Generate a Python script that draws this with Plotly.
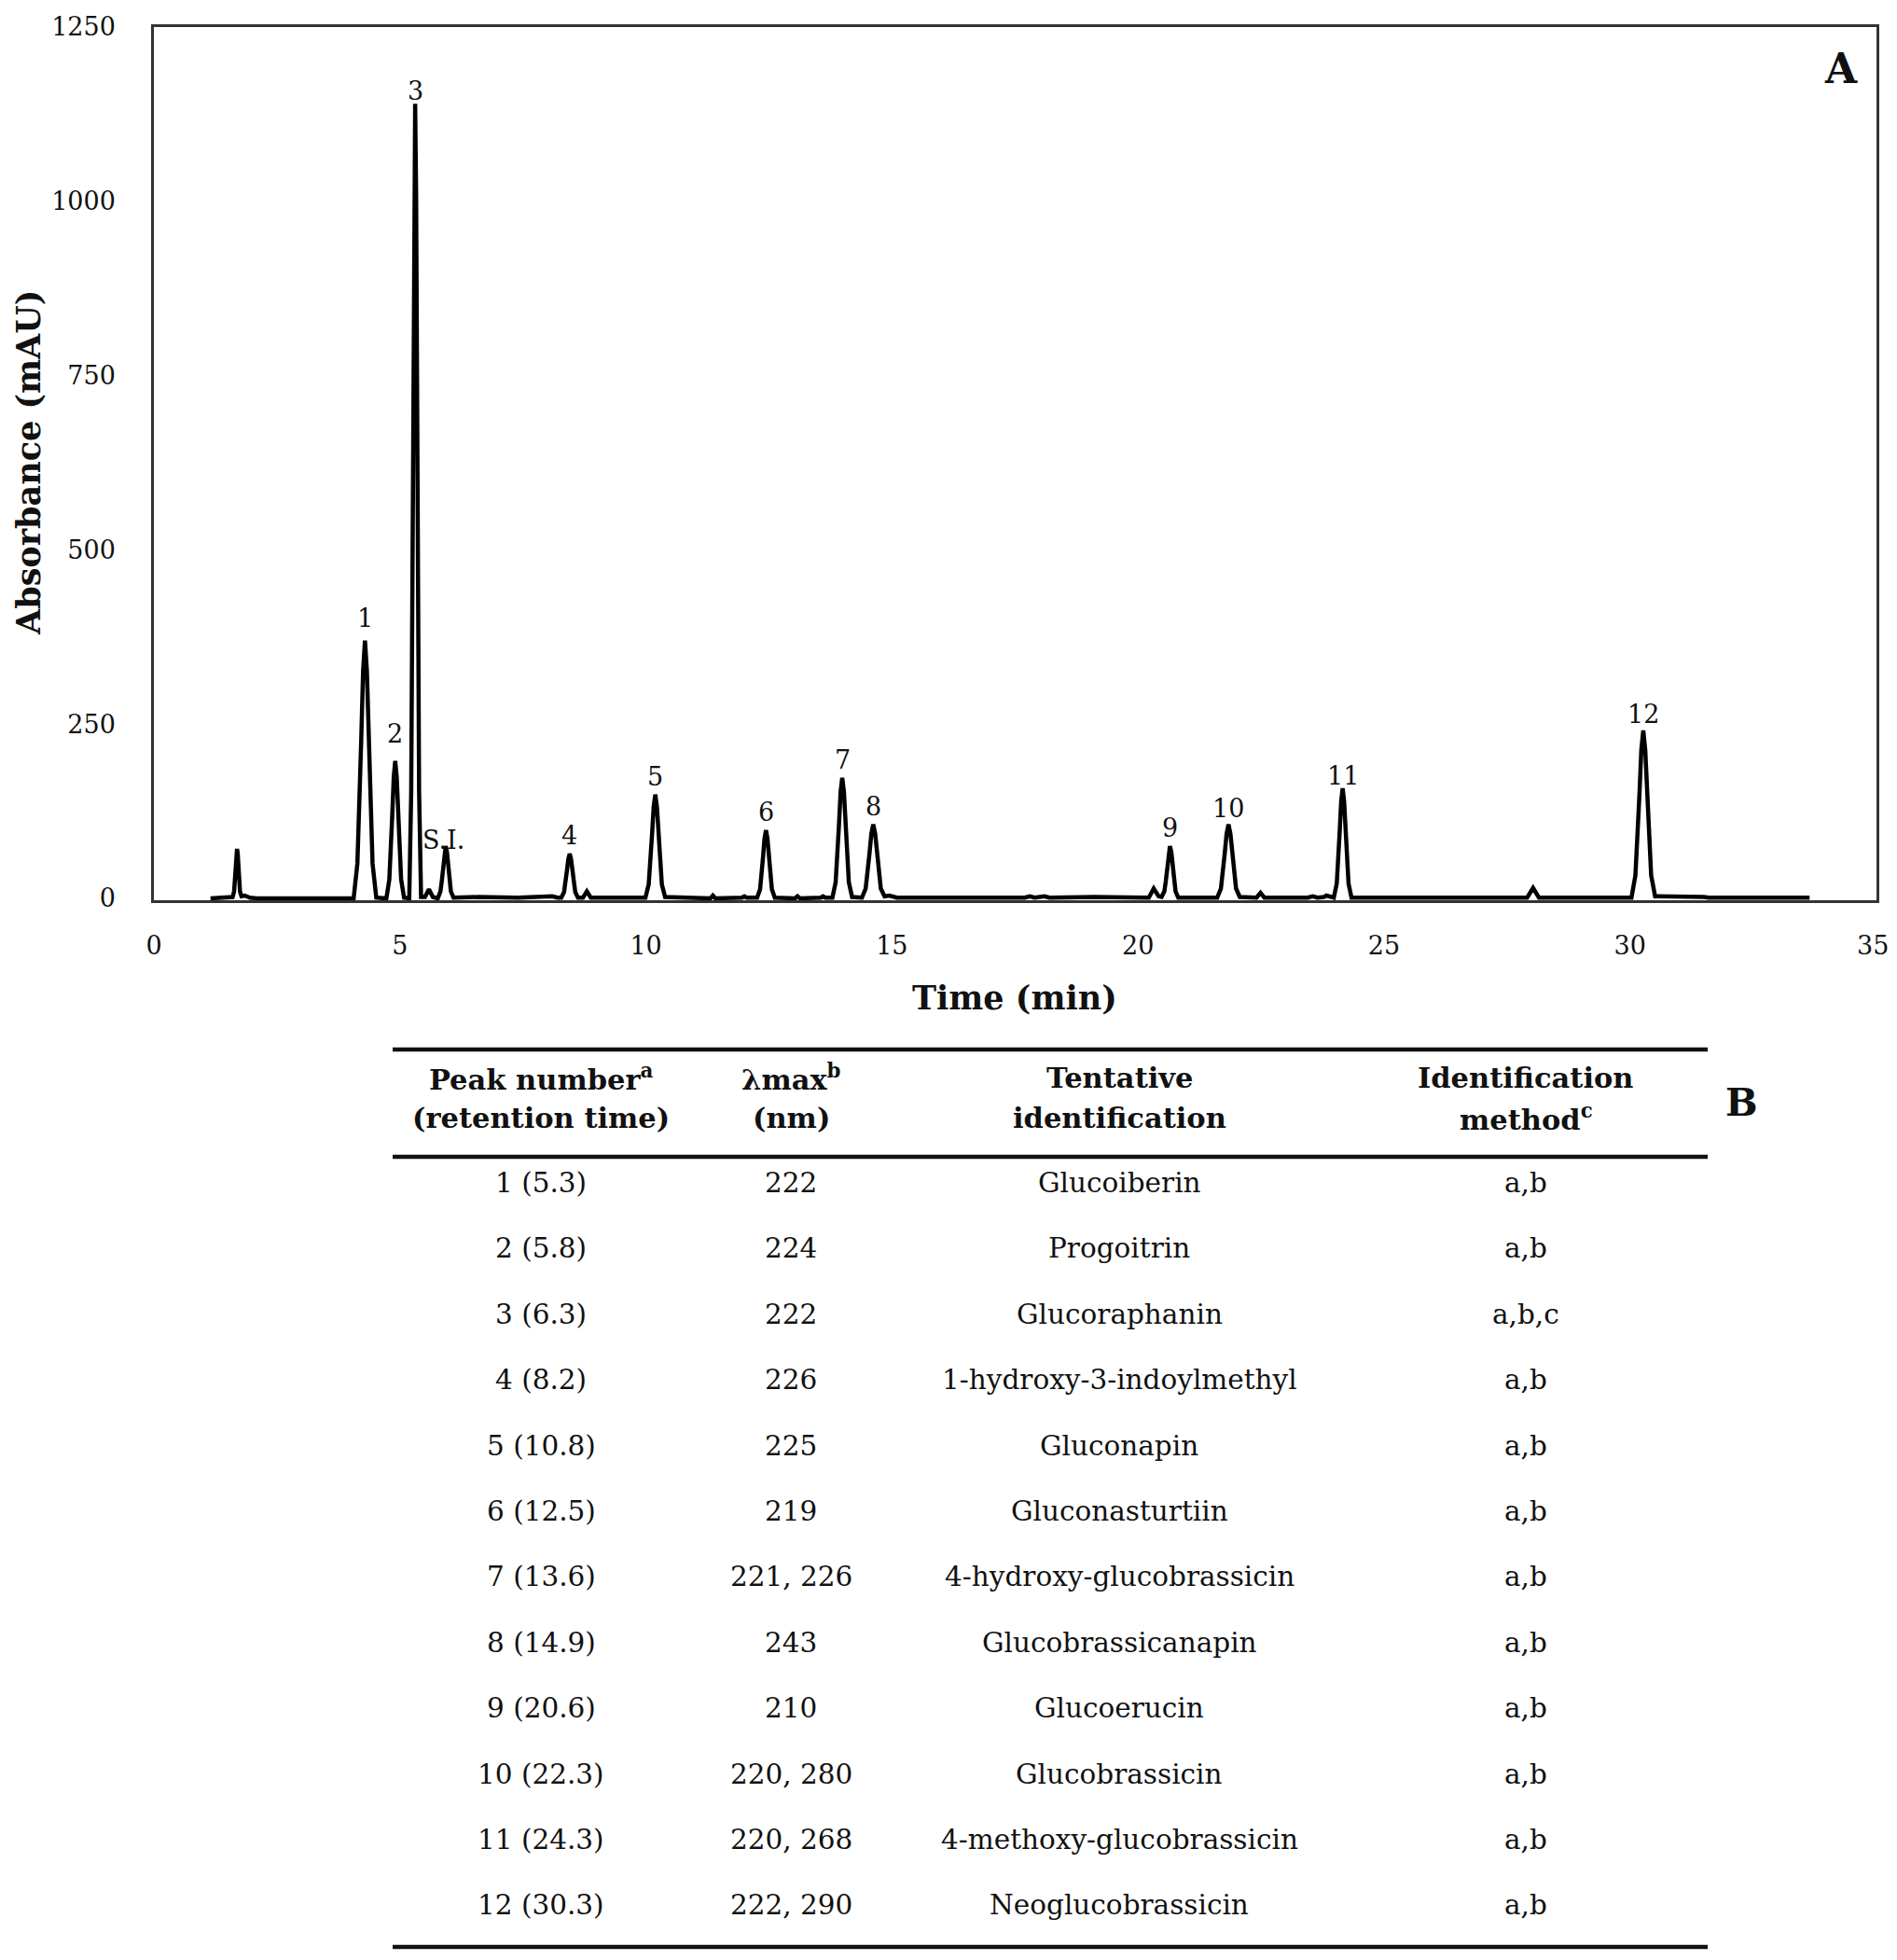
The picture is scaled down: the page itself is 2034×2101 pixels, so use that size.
import plotly.graph_objects as go

# ---------------- chromatogram data ----------------
time_min = [
    1.15, 1.40,
    1.60, 1.63, 1.645, 1.66, 1.675, 1.69, 1.705, 1.72, 1.735, 1.75, 1.78, 1.85, 1.95, 2.10,
    3.90,
    4.06, 4.136, 4.175, 4.213, 4.252, 4.29, 4.329, 4.367, 4.406, 4.444, 4.52,
    4.725, 4.785, 4.815, 4.845, 4.875, 4.905, 4.935, 4.965, 4.995, 5.025, 5.085,
    5.19, 5.23, 5.25, 5.27, 5.29, 5.31, 5.33, 5.35, 5.37, 5.39, 5.43,
    5.51, 5.59, 5.67,
    5.77, 5.824, 5.85, 5.877, 5.904, 5.93, 5.957, 5.983, 6.01, 6.036, 6.09,
    6.6, 7.4, 7.9, 8.1, 8.2,
    8.28, 8.336, 8.365, 8.393, 8.422, 8.45, 8.479, 8.507, 8.536, 8.564, 8.62,
    8.72, 8.80, 8.88,
    9.5,
    9.99, 10.056, 10.09, 10.123, 10.157, 10.19, 10.224, 10.257, 10.29, 10.324, 10.39,
    10.9, 11.31, 11.36, 11.41,
    11.95, 12.0, 12.05,
    12.26, 12.32, 12.35, 12.38, 12.41, 12.44, 12.47, 12.5, 12.53, 12.56, 12.62,
    13.03, 13.08, 13.13,
    13.55, 13.6, 13.65,
    13.79, 13.856, 13.89, 13.923, 13.957, 13.99, 14.024, 14.057, 14.09, 14.124, 14.19,
    14.39, 14.466, 14.505, 14.543, 14.582, 14.62, 14.659, 14.697, 14.736, 14.774, 14.85,
    14.95, 15.1, 16.2, 16.5, 17.7, 17.8, 17.9, 18.1, 18.2, 19.1, 20.1,
    20.22, 20.32, 20.42,
    20.48, 20.536, 20.565, 20.593, 20.622, 20.65, 20.679, 20.707, 20.736, 20.764, 20.82,
    21.5,
    21.61, 21.686, 21.725, 21.763, 21.802, 21.84, 21.879, 21.917, 21.956, 21.994, 22.07,
    22.2, 22.41, 22.49, 22.57,
    23.45, 23.55, 23.65, 23.78, 23.83, 23.9,
    23.98, 24.04, 24.07, 24.1, 24.13, 24.16, 24.19, 24.22, 24.25, 24.28, 24.34,
    25.7, 25.8, 26.1, 27.2, 27.8,
    27.91, 28.03, 28.15,
    29.9,
    30.03, 30.11, 30.15, 30.19, 30.23, 30.27, 30.31, 30.35, 30.39, 30.43, 30.51,
    30.6, 31.5, 31.6, 33.65,
]
absorbance_mau = [
    0, 1,
    2, 10, 23, 43, 63, 71, 63, 43, 23, 10, 3, 4, 1, 0,
    0,
    0, 50, 120, 225, 326, 370, 326, 225, 120, 50, 1,
    0, 27, 64, 120, 174, 197, 174, 120, 64, 27, 1,
    0, 154, 370, 692, 1005, 1140, 1005, 692, 370, 154, 2,
    2, 13, 2,
    0, 10, 24, 46, 66, 75, 66, 46, 24, 10, 1,
    2, 1, 2, 3, 1,
    1, 9, 21, 39, 56, 64, 56, 39, 21, 9, 1,
    1, 10, 1,
    1,
    1, 20, 48, 90, 131, 149, 131, 90, 48, 20, 2,
    1, 0, 4, 0,
    1, 3, 1,
    1, 13, 32, 59, 86, 98, 86, 59, 32, 13, 1,
    0, 3, 0,
    1, 3, 1,
    1, 23, 56, 105, 153, 173, 153, 105, 56, 23, 2,
    1, 14, 34, 64, 93, 106, 93, 64, 34, 14, 3,
    4, 1, 1, 2, 1, 3, 1, 3, 1, 2, 1,
    1, 14, 3,
    2, 10, 24, 46, 66, 75, 66, 46, 24, 10, 1,
    1,
    1, 14, 34, 64, 93, 106, 93, 64, 34, 14, 2,
    2, 1, 8, 1,
    1, 3, 1, 2, 4, 2,
    1, 21, 51, 96, 139, 158, 139, 96, 51, 21, 1,
    1, 2, 1, 2, 1,
    1, 15, 1,
    1,
    1, 33, 78, 146, 213, 241, 213, 146, 78, 33, 3,
    3, 2, 1, 1,
]

# peak labels on the chromatogram
peak_names = ["1", "2", "3", "S.I.", "4", "5", "6", "7", "8", "9", "10", "11", "12"]
peak_times = [4.29, 4.905, 5.31, 5.93, 8.45, 10.19, 12.44, 13.99, 14.62, 20.65, 21.84, 24.16, 30.27]
peak_heights = [370, 197, 1140, 75, 64, 149, 98, 173, 106, 75, 106, 158, 241]

x_ticks = [0, 5, 10, 15, 20, 25, 30, 35]
y_ticks = [0, 250, 500, 750, 1000, 1250]

# ---------------- table data ----------------
header_line1 = ["Peak number<sup>a</sup>", "λmax<sup>b</sup>", "Tentative", "Identification"]
header_line2 = ["(retention time)", "(nm)", "identification", "method<sup>c</sup>"]
col_peak = ["1 (5.3)", "2 (5.8)", "3 (6.3)", "4 (8.2)", "5 (10.8)", "6 (12.5)", "7 (13.6)",
            "8 (14.9)", "9 (20.6)", "10 (22.3)", "11 (24.3)", "12 (30.3)"]
col_lambda = ["222", "224", "222", "226", "225", "219", "221, 226", "243", "210",
              "220, 280", "220, 268", "222, 290"]
col_ident = ["Glucoiberin", "Progoitrin", "Glucoraphanin", "1-hydroxy-3-indoylmethyl",
             "Gluconapin", "Gluconasturtiin", "4-hydroxy-glucobrassicin",
             "Glucobrassicanapin", "Glucoerucin", "Glucobrassicin",
             "4-methoxy-glucobrassicin", "Neoglucobrassicin"]
col_method = ["a,b", "a,b", "a,b,c", "a,b", "a,b", "a,b", "a,b", "a,b", "a,b", "a,b", "a,b", "a,b"]

# ---------------- layout geometry (page pixels) ----------------
PAGE_W, PAGE_H = 2034, 2101
BODY = 8                      # default page margin around the figure div
W, H = PAGE_W - 2 * BODY, PAGE_H - 2 * BODY
FONT = "DejaVu Serif"
TXT = "#111111"

def py(ypx):
    return 1 - (ypx - BODY) / H

def px(xpx):
    return (xpx - BODY) / W

plot_left, plot_right = 165, 2011.5
y0_px, y1250_px = 963, 29
ymin = -3
unit = (y0_px - y1250_px) / 1250.0
plot_bottom = y0_px - ymin * unit

# small per-label vertical nudges (px) so labels sit as in the original
label_nudge = {"1": 5, "2": 10, "3": -6, "11": -6, "12": -2, "10": -2}

fig = go.Figure()
fig.add_trace(go.Scatter(
    x=time_min, y=absorbance_mau, mode="lines",
    line=dict(color="black", width=4.5), showlegend=False, hoverinfo="skip",
))

annotations = []
for name, t, h in zip(peak_names, peak_times, peak_heights):
    if name == "S.I.":
        annotations.append(dict(x=t, y=h, xref="x", yref="y", text=name, showarrow=False,
                                xanchor="center", yanchor="middle", yshift=6, xshift=-2,
                                font=dict(family=FONT, size=27, color=TXT)))
    else:
        annotations.append(dict(x=t, y=h, xref="x", yref="y", text=name, showarrow=False,
                                xanchor="center", yanchor="bottom",
                                yshift=2 + label_nudge.get(name, 0),
                                font=dict(family=FONT, size=27, color=TXT)))

# the last x tick label sits at the very page edge: draw it as a text nudged inward
x_tick_text = [str(v) for v in x_ticks[:-1]] + [""]
annotations.append(dict(x=x_ticks[-1], y=py(1013), xref="x", yref="paper", text=str(x_ticks[-1]),
                        showarrow=False, xanchor="center", yanchor="middle", xshift=-4,
                        font=dict(family=FONT, size=27, color=TXT)))

# axis titles and panel letters
annotations.append(dict(x=px((plot_left + plot_right) / 2), y=py(1069), xref="paper", yref="paper",
                        text="<b>Time (min)</b>", showarrow=False, xanchor="center", yanchor="middle",
                        font=dict(family=FONT, size=35, color=TXT)))
annotations.append(dict(x=px(30), y=py(496), xref="paper", yref="paper",
                        text="<b>Absorbance (mAU)</b>", showarrow=False, textangle=-90,
                        xanchor="center", yanchor="middle",
                        font=dict(family=FONT, size=35, color=TXT)))
annotations.append(dict(x=px(1974), y=py(74), xref="paper", yref="paper", text="<b>A</b>",
                        showarrow=False, xanchor="center", yanchor="middle",
                        font=dict(family=FONT, size=44, color=TXT)))
annotations.append(dict(x=px(1867), y=py(1182), xref="paper", yref="paper", text="<b>B</b>",
                        showarrow=False, xanchor="center", yanchor="middle",
                        font=dict(family=FONT, size=41, color=TXT)))

# table
col_x = [580, 848, 1200, 1636]
for cx, l1, l2 in zip(col_x, header_line1, header_line2):
    annotations.append(dict(x=px(cx), y=py(1155), xref="paper", yref="paper", text="<b>" + l1 + "</b>",
                            showarrow=False, xanchor="center", yanchor="middle",
                            font=dict(family=FONT, size=30.5, color=TXT)))
    annotations.append(dict(x=px(cx), y=py(1198), xref="paper", yref="paper", text="<b>" + l2 + "</b>",
                            showarrow=False, xanchor="center", yanchor="middle",
                            font=dict(family=FONT, size=30.5, color=TXT)))

row0, row_step = 1268, 70.4
for i, row in enumerate(zip(col_peak, col_lambda, col_ident, col_method)):
    for cx, val in zip(col_x, row):
        annotations.append(dict(x=px(cx), y=py(row0 + i * row_step), xref="paper", yref="paper",
                                text=val, showarrow=False, xanchor="center", yanchor="middle",
                                font=dict(family=FONT, size=29.5, color=TXT)))

shapes = []
for ry in [1125, 1240, 2087]:
    shapes.append(dict(type="line", xref="paper", yref="paper", x0=px(421), x1=px(1831),
                       y0=py(ry), y1=py(ry), line=dict(color="#111111", width=4.5)))

fig.update_layout(
    width=W, height=H, margin=dict(l=0, r=0, t=0, b=0, autoexpand=False),
    paper_bgcolor="white", plot_bgcolor="white",
    annotations=annotations, shapes=shapes,
    xaxis=dict(domain=[px(plot_left), px(plot_right)], range=[0, 35], tickvals=x_ticks,
               ticktext=x_tick_text, showgrid=False, zeroline=False,
               showline=True, mirror=True, linecolor="#333333", linewidth=2.5,
               ticks="", ticklabelstandoff=23, automargin=False, ticklabeloverflow="allow",
               tickfont=dict(family=FONT, size=27, color=TXT)),
    yaxis=dict(domain=[py(plot_bottom), py(y1250_px)], range=[ymin, 1250], tickvals=y_ticks,
               ticktext=[str(v) for v in y_ticks], showgrid=False, zeroline=False,
               showline=True, mirror=True, linecolor="#333333", linewidth=2.5,
               ticks="", ticklabelstandoff=33, automargin=False, ticklabeloverflow="allow",
               tickfont=dict(family=FONT, size=27, color=TXT)),
)

fig.write_html("out.html")
